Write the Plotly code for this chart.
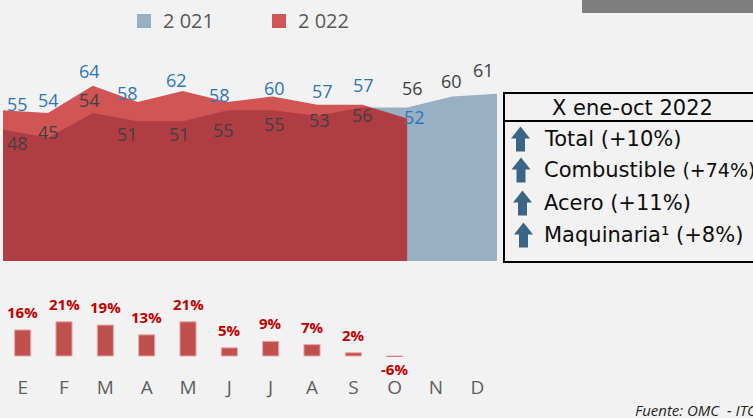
import plotly.graph_objects as go

W, H = 753, 418

months = ["E", "F", "M", "A", "M", "J", "J", "A", "S", "O", "N", "D"]
val_2021 = [48, 45, 54, 51, 51, 55, 55, 53, 56, 56, 60, 61]
val_2022 = [55, 54, 64, 58, 62, 58, 60, 57, 57, 52]
var_2022 = [16, 21, 19, 13, 21, 5, 9, 7, 2, -6]
legend_labels = ["2 021", "2 022"]
box_title = "X ene-oct 2022"
box_items = ["Total", "Combustible", "Acero", "Maquinaria¹"]
box_changes = ["+10%", "+74%", "+11%", "+8%"]
source = "Fuente: OMC  - ITC"

C_2021 = "#98B0C4"
C_2022 = "rgba(190,0,0,0.65)"
C_2022_KEY = "#D05555"
C_BAR = "#C0504D"
C_ARROW = "#3A6585"
BG = "#F2F2F2"


def px(x):
    return x / W


def py(y):
    return 1 - y / H


idx = list(range(len(months)))

# label offsets (pixels) relative to each point
off_2022 = [(14, -6), (1, -13), (-3, -15), (-10, -9), (-6, -11), (-8, -7),
            (2, -9), (5, -14), (1, -20), (7, -2)]
off_2021 = [(14, 14), (1, -6), (-3, -13), (-10, 13), (-3, 13), (-4, 20),
            (2, 14), (2, 4), (0, 7), (5, -20), (-1, -16), (-14, -24)]

fig = go.Figure()

fig.add_trace(go.Scatter(
    x=idx[:len(val_2021)], y=val_2021, mode="lines", fill="tozeroy",
    fillcolor=C_2021, line={"width": 0, "color": C_2021},
    xaxis="x", yaxis="y", hoverinfo="skip", showlegend=False,
))
fig.add_trace(go.Scatter(
    x=idx[:len(val_2022)], y=val_2022, mode="lines", fill="tozeroy",
    fillcolor=C_2022, line={"width": 0, "color": C_2022},
    xaxis="x", yaxis="y", hoverinfo="skip", showlegend=False,
))
fig.add_trace(go.Bar(
    x=idx[:len(var_2022)], y=var_2022, width=0.39,
    marker={"color": C_BAR, "line": {"color": "#E8A9A7", "width": 1}},
    xaxis="x2", yaxis="y2", hoverinfo="skip", showlegend=False,
))

annotations = []
for i, v in enumerate(val_2022):
    dx, dy = off_2022[i]
    annotations.append(dict(
        x=idx[i], y=v, xref="x", yref="y", text=str(v), showarrow=False,
        xshift=dx, yshift=-dy, font={"family": "Open Sans", "size": 18, "color": "#2E75B6"},
    ))
for i, v in enumerate(val_2021):
    dx, dy = off_2021[i]
    annotations.append(dict(
        x=idx[i], y=v, xref="x", yref="y", text=str(v), showarrow=False,
        xshift=dx, yshift=-dy, font={"family": "Open Sans", "size": 18, "color": "#404040"},
    ))
for i, v in enumerate(var_2022):
    annotations.append(dict(
        x=idx[i], y=max(v, 0), xref="x2", yref="y2", text=f"{v}%", showarrow=False,
        yshift=18 if v > 0 else -13,
        font={"family": "Open Sans", "size": 15, "color": "#C00000", "weight": "bold"},
    ))

# legend
shapes = []
for (x0, color), label in zip([(137, C_2021), (272, C_2022_KEY)], legend_labels):
    shapes.append(dict(type="rect", xref="paper", yref="paper",
                       x0=px(x0), x1=px(x0 + 14), y0=py(28), y1=py(14),
                       fillcolor=color, line={"width": 0}))
    annotations.append(dict(x=px(x0 + 24), y=py(21), xref="paper", yref="paper",
                            xanchor="left", yanchor="middle", text=label, showarrow=False,
                            font={"family": "Open Sans", "size": 20, "color": "#595959"}))

# grey bar top right
shapes.append(dict(type="rect", xref="paper", yref="paper", x0=px(582), x1=px(760),
                   y0=py(13), y1=py(-5), fillcolor="#7F7F7F", line={"width": 0}))

# summary box
shapes.append(dict(type="rect", xref="paper", yref="paper", x0=px(504), x1=px(770),
                   y0=py(262), y1=py(93), line={"color": "#000000", "width": 2}))
shapes.append(dict(type="line", xref="paper", yref="paper", x0=px(504), x1=px(770),
                   y0=py(121), y1=py(121), line={"color": "#000000", "width": 2}))
annotations.append(dict(x=px(632), y=py(108), xref="paper", yref="paper",
                        xanchor="center", yanchor="middle",
                        text=box_title, showarrow=False,
                        font={"family": "DejaVu Sans", "size": 21, "color": "#0D0D0D"}))

row_y = [139, 170, 203, 235]
arrow_x = [520.5, 521, 522.5, 523.5]
chg_size = [21, 19, 21, 21]
for item, chg, yc, ax, cs in zip(box_items, box_changes, row_y, arrow_x, chg_size):
    top = yc - 12.5
    pts = [(ax, top), (ax + 9.5, top + 12), (ax + 4.5, top + 12), (ax + 4.5, top + 25),
           (ax - 4.5, top + 25), (ax - 4.5, top + 12), (ax - 9.5, top + 12)]
    path = "M " + " L ".join(f"{px(a):.5f},{py(b):.5f}" for a, b in pts) + " Z"
    shapes.append(dict(type="path", xref="paper", yref="paper", path=path,
                       fillcolor=C_ARROW, line={"width": 0}))
    annotations.append(dict(x=px(542), y=py(yc), xref="paper", yref="paper",
                            xanchor="left", yanchor="middle", showarrow=False,
                            text=f"{item} <span style='font-size:{cs}px'>({chg})</span>",
                            font={"family": "DejaVu Sans", "size": 21, "color": "#0D0D0D"}))

annotations.append(dict(x=px(633), y=py(410), xref="paper", yref="paper",
                        xanchor="left", yanchor="middle", showarrow=False,
                        text=f"<i>{source}</i>",
                        font={"family": "Open Sans", "size": 15, "color": "#262626"}))

fig.update_layout(
    width=W, height=H, margin=dict(l=0, r=0, t=0, b=0),
    paper_bgcolor=BG, plot_bgcolor=BG, showlegend=False,
    xaxis=dict(domain=[px(3), px(497)], range=[0, 11], visible=False, anchor="y"),
    yaxis=dict(domain=[py(261), py(55.5)], range=[0, 75], visible=False, anchor="x"),
    xaxis2=dict(domain=[px(2), px(498)], range=[-0.5, 11.5], anchor="y2",
                tickvals=idx, ticktext=months, showgrid=False, zeroline=False,
                showline=False, ticks="outside", ticklen=13, tickcolor="rgba(0,0,0,0)",
                tickfont={"family": "Open Sans", "size": 19, "color": "#5F5F5F"}),
    yaxis2=dict(domain=[py(357), py(315.25)], range=[-0.6, 25], visible=False, anchor="x2"),
    annotations=annotations, shapes=shapes,
)

fig.write_html("out.html", config={"displayModeBar": False},
               post_script="document.body.style.margin='0';")
